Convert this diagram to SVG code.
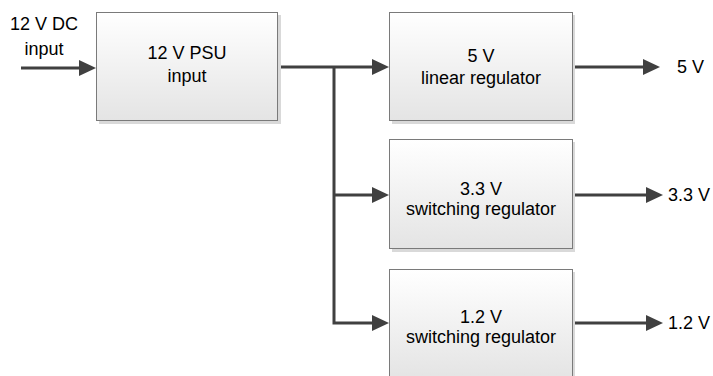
<svg xmlns="http://www.w3.org/2000/svg" width="713" height="376" viewBox="0 0 713 376">
  <defs>
    <linearGradient id="boxfill" x1="0" y1="0" x2="0" y2="1">
      <stop offset="0" stop-color="#ffffff"/>
      <stop offset="1" stop-color="#e4e4e4"/>
    </linearGradient>
    <marker id="arrow" markerUnits="userSpaceOnUse" markerWidth="18" markerHeight="16" refX="9" refY="8" orient="auto">
      <path d="M0,0 L17,8 L0,16 z" fill="#404040"/>
    </marker>
  </defs>
  <style>
    .box { fill: url(#boxfill); stroke: #7a7a7a; stroke-width: 1; }
    .shadow { fill: #d9d9d9; }
    .wire { fill: none; stroke: #404040; stroke-width: 3; }
    .arr { marker-end: url(#arrow); }
    text { font-family: "Liberation Sans", Arial, sans-serif; font-size: 18px; fill: #000; }
    .c { text-anchor: middle; }
  </style>
  <rect width="713" height="376" fill="#ffffff"/>

  <g id="connectors">
    <line class="wire arr" x1="21" y1="68" x2="88" y2="68"/>
    <polyline class="wire arr" points="278,67 381,67"/>
    <polyline class="wire arr" points="334,67 334,323 381,323"/>
    <line class="wire arr" x1="334" y1="195" x2="381" y2="195"/>
    <line class="wire arr" x1="573" y1="67" x2="652" y2="67"/>
    <line class="wire arr" x1="573" y1="195" x2="655" y2="195"/>
    <line class="wire arr" x1="573" y1="323" x2="655" y2="323"/>
  </g>

  <g id="input-label">
    <text class="c" x="44" y="30">12 V DC</text>
    <text class="c" x="44" y="55">input</text>
  </g>

  <g id="psu">
    <rect class="shadow" x="99" y="15" width="182" height="109"/>
    <rect class="box" x="96.5" y="12.5" width="181" height="108"/>
    <text class="c" x="187" y="59">12 V PSU</text>
    <text class="c" x="187" y="82">input</text>
  </g>

  <g id="reg5">
    <rect class="shadow" x="392" y="15" width="183" height="109"/>
    <rect class="box" x="389.5" y="12.5" width="183" height="108"/>
    <text class="c" x="481" y="62">5 V</text>
    <text class="c" x="481" y="84">linear regulator</text>
  </g>

  <g id="reg33">
    <rect class="shadow" x="392" y="142" width="183" height="110"/>
    <rect class="box" x="389.5" y="139.5" width="183" height="109"/>
    <text class="c" x="481" y="195">3.3 V</text>
    <text class="c" x="481" y="215">switching regulator</text>
  </g>

  <g id="reg12">
    <rect class="shadow" x="392" y="272" width="183" height="110"/>
    <rect class="box" x="389.5" y="269.5" width="183" height="109"/>
    <text class="c" x="481" y="323">1.2 V</text>
    <text class="c" x="481" y="343">switching regulator</text>
  </g>

  <g id="outputs">
    <text x="677" y="73">5 V</text>
    <text x="668" y="201">3.3 V</text>
    <text x="668" y="329">1.2 V</text>
  </g>
</svg>
